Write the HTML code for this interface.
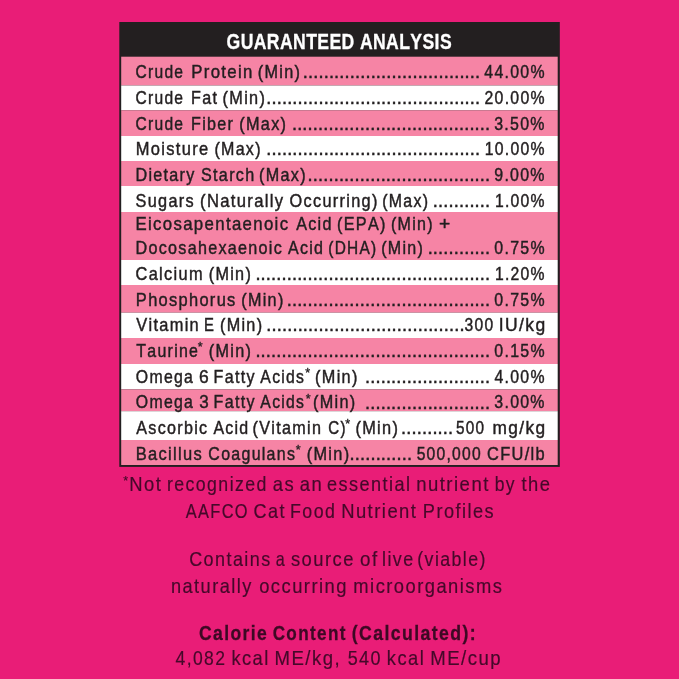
<!DOCTYPE html>
<html lang="en"><head><meta charset="utf-8"><title>Guaranteed Analysis</title>
<style>
html,body{margin:0;padding:0;background:#E91D77;}
body{width:679px;height:679px;overflow:hidden;}
svg{display:block;font-family:"Liberation Sans",sans-serif;font-kerning:none;}
svg text{white-space:pre;}
</style></head><body>
<svg width="679" height="679" viewBox="0 0 679 679">
<rect x="0" y="0" width="679" height="679" fill="#E91D77"/>
<rect x="119.3" y="22" width="440.5" height="444.9" fill="#231F20"/>
<rect x="121.2" y="56.7" width="436.5" height="28.8" fill="#F684A5"/>
<rect x="121.2" y="85.5" width="436.5" height="24.8" fill="#FFFFFF"/>
<rect x="121.2" y="110.3" width="436.5" height="25.7" fill="#F684A5"/>
<rect x="121.2" y="136" width="436.5" height="25.0" fill="#FFFFFF"/>
<rect x="121.2" y="161" width="436.5" height="25.0" fill="#F684A5"/>
<rect x="121.2" y="186" width="436.5" height="26.0" fill="#FFFFFF"/>
<rect x="121.2" y="212" width="436.5" height="48.0" fill="#F684A5"/>
<rect x="121.2" y="260" width="436.5" height="25.0" fill="#FFFFFF"/>
<rect x="121.2" y="285" width="436.5" height="27.7" fill="#F684A5"/>
<rect x="121.2" y="312.7" width="436.5" height="25.3" fill="#FFFFFF"/>
<rect x="121.2" y="338" width="436.5" height="26.0" fill="#F684A5"/>
<rect x="121.2" y="364" width="436.5" height="25.4" fill="#FFFFFF"/>
<rect x="121.2" y="389.4" width="436.5" height="21.8" fill="#F684A5"/>
<rect x="121.2" y="411.2" width="436.5" height="28.8" fill="#FFFFFF"/>
<rect x="121.2" y="440" width="436.5" height="25.0" fill="#F684A5"/>
<text transform="matrix(0.8152 0 0 1 0 0)" x="277.99" y="49.00" font-size="21.6" font-weight="bold" fill="#FFFFFF" stroke="#FFFFFF" stroke-width="0.3" letter-spacing="0.480">GUARANTEED ANALYSIS</text>
<text transform="matrix(0.8671 0 0 1 0 0)" x="156.30" y="78.40" font-size="18" fill="#231F20" stroke="#231F20" stroke-width="0.45" letter-spacing="1.440">Crude</text>
<text transform="matrix(0.9323 0 0 1 0 0)" x="205.13" y="78.40" font-size="18" fill="#231F20" stroke="#231F20" stroke-width="0.45" letter-spacing="1.440">Protein</text>
<text transform="matrix(0.9022 0 0 1 0 0)" x="285.71" y="78.40" font-size="18" fill="#231F20" stroke="#231F20" stroke-width="0.45" letter-spacing="1.440">(Min)</text>
<text x="302.56" y="78.40" font-size="20" fill="#231F20" stroke="#231F20" stroke-width="0.35" letter-spacing="-0.337">..................................</text>
<text transform="matrix(0.8828 0 0 1 0 0)" x="548.59" y="78.40" font-size="18" fill="#231F20" stroke="#231F20" stroke-width="0.45" letter-spacing="1.440">44.00%</text>
<text transform="matrix(0.8671 0 0 1 0 0)" x="156.30" y="104.30" font-size="18" fill="#231F20" stroke="#231F20" stroke-width="0.45" letter-spacing="1.440">Crude</text>
<text transform="matrix(0.8955 0 0 1 0 0)" x="213.42" y="104.30" font-size="18" fill="#231F20" stroke="#231F20" stroke-width="0.45" letter-spacing="1.440">Fat</text>
<text transform="matrix(0.9046 0 0 1 0 0)" x="246.08" y="104.30" font-size="18" fill="#231F20" stroke="#231F20" stroke-width="0.45" letter-spacing="1.440">(Min)</text>
<text x="266.02" y="104.30" font-size="20" fill="#231F20" stroke="#231F20" stroke-width="0.35" letter-spacing="-0.337">.........................................</text>
<text transform="matrix(0.8794 0 0 1 0 0)" x="550.99" y="104.30" font-size="18" fill="#231F20" stroke="#231F20" stroke-width="0.45" letter-spacing="1.440">20.00%</text>
<text transform="matrix(0.8671 0 0 1 0 0)" x="156.30" y="130.00" font-size="18" fill="#231F20" stroke="#231F20" stroke-width="0.45" letter-spacing="1.440">Crude</text>
<text transform="matrix(0.8959 0 0 1 0 0)" x="213.33" y="130.00" font-size="18" fill="#231F20" stroke="#231F20" stroke-width="0.45" letter-spacing="1.440">Fiber</text>
<text transform="matrix(0.9032 0 0 1 0 0)" x="264.93" y="130.00" font-size="18" fill="#231F20" stroke="#231F20" stroke-width="0.45" letter-spacing="1.440">(Max)</text>
<text x="291.68" y="130.00" font-size="20" fill="#231F20" stroke="#231F20" stroke-width="0.35" letter-spacing="-0.337">......................................</text>
<text transform="matrix(0.8854 0 0 1 0 0)" x="558.21" y="130.00" font-size="18" fill="#231F20" stroke="#231F20" stroke-width="0.45" letter-spacing="1.440">3.50%</text>
<text transform="matrix(0.9149 0 0 1 0 0)" x="148.41" y="155.00" font-size="18" fill="#231F20" stroke="#231F20" stroke-width="0.45" letter-spacing="1.440">Moisture</text>
<text transform="matrix(0.8908 0 0 1 0 0)" x="240.73" y="155.00" font-size="18" fill="#231F20" stroke="#231F20" stroke-width="0.45" letter-spacing="1.440">(Max)</text>
<text x="266.02" y="155.00" font-size="20" fill="#231F20" stroke="#231F20" stroke-width="0.35" letter-spacing="-0.337">.........................................</text>
<text transform="matrix(0.8757 0 0 1 0 0)" x="553.58" y="155.00" font-size="18" fill="#231F20" stroke="#231F20" stroke-width="0.45" letter-spacing="1.440">10.00%</text>
<text transform="matrix(0.8963 0 0 1 0 0)" x="151.17" y="180.80" font-size="18" fill="#231F20" stroke="#231F20" stroke-width="0.45" letter-spacing="1.440">Dietary</text>
<text transform="matrix(0.8973 0 0 1 0 0)" x="224.05" y="180.80" font-size="18" fill="#231F20" stroke="#231F20" stroke-width="0.45" letter-spacing="1.440">Starch</text>
<text transform="matrix(0.8987 0 0 1 0 0)" x="288.31" y="180.80" font-size="18" fill="#231F20" stroke="#231F20" stroke-width="0.45" letter-spacing="1.440">(Max)</text>
<text x="307.34" y="180.80" font-size="20" fill="#231F20" stroke="#231F20" stroke-width="0.35" letter-spacing="-0.337">...................................</text>
<text transform="matrix(0.8848 0 0 1 0 0)" x="558.65" y="180.80" font-size="18" fill="#231F20" stroke="#231F20" stroke-width="0.45" letter-spacing="1.440">9.00%</text>
<text transform="matrix(0.9046 0 0 1 0 0)" x="149.89" y="206.60" font-size="18" fill="#231F20" stroke="#231F20" stroke-width="0.45" letter-spacing="1.440">Sugars</text>
<text transform="matrix(0.9238 0 0 1 0 0)" x="216.54" y="206.60" font-size="18" fill="#231F20" stroke="#231F20" stroke-width="0.45" letter-spacing="1.440">(Naturally</text>
<text transform="matrix(0.9063 0 0 1 0 0)" x="319.50" y="206.60" font-size="18" fill="#231F20" stroke="#231F20" stroke-width="0.45" letter-spacing="1.440">Occurring)</text>
<text transform="matrix(0.8831 0 0 1 0 0)" x="432.91" y="206.60" font-size="18" fill="#231F20" stroke="#231F20" stroke-width="0.45" letter-spacing="1.440">(Max)</text>
<text x="432.62" y="206.60" font-size="20" fill="#231F20" stroke="#231F20" stroke-width="0.35" letter-spacing="-0.337">...........</text>
<text transform="matrix(0.8739 0 0 1 0 0)" x="566.31" y="206.60" font-size="18" fill="#231F20" stroke="#231F20" stroke-width="0.45" letter-spacing="1.440">1.00%</text>
<text transform="matrix(0.9330 0 0 1 0 0)" x="145.17" y="230.00" font-size="18" fill="#231F20" stroke="#231F20" stroke-width="0.45" letter-spacing="1.440">Eicosapentaenoic</text>
<text transform="matrix(0.8990 0 0 1 0 0)" x="329.44" y="230.00" font-size="18" fill="#231F20" stroke="#231F20" stroke-width="0.45" letter-spacing="1.440">Acid</text>
<text transform="matrix(0.9014 0 0 1 0 0)" x="373.90" y="230.00" font-size="18" fill="#231F20" stroke="#231F20" stroke-width="0.45" letter-spacing="1.440">(EPA)</text>
<text transform="matrix(0.8903 0 0 1 0 0)" x="439.11" y="230.00" font-size="18" fill="#231F20" stroke="#231F20" stroke-width="0.45" letter-spacing="1.440">(Min)</text>
<text transform="matrix(1.0692 0 0 1 0 0)" x="410.49" y="230.00" font-size="18" fill="#231F20" stroke="#231F20" stroke-width="0.45" letter-spacing="0.000">+</text>
<text transform="matrix(0.8969 0 0 1 0 0)" x="151.08" y="254.00" font-size="18" fill="#231F20" stroke="#231F20" stroke-width="0.45" letter-spacing="1.440">Docosahexaenoic</text>
<text transform="matrix(0.8900 0 0 1 0 0)" x="323.58" y="254.00" font-size="18" fill="#231F20" stroke="#231F20" stroke-width="0.45" letter-spacing="1.440">Acid</text>
<text transform="matrix(0.8586 0 0 1 0 0)" x="382.35" y="254.00" font-size="18" fill="#231F20" stroke="#231F20" stroke-width="0.45" letter-spacing="1.440">(DHA)</text>
<text transform="matrix(0.8915 0 0 1 0 0)" x="427.57" y="254.00" font-size="18" fill="#231F20" stroke="#231F20" stroke-width="0.45" letter-spacing="1.440">(Min)</text>
<text x="427.40" y="254.00" font-size="20" fill="#231F20" stroke="#231F20" stroke-width="0.35" letter-spacing="-0.337">............</text>
<text transform="matrix(0.8835 0 0 1 0 0)" x="559.57" y="254.00" font-size="18" fill="#231F20" stroke="#231F20" stroke-width="0.45" letter-spacing="1.440">0.75%</text>
<text transform="matrix(0.9096 0 0 1 0 0)" x="149.07" y="280.00" font-size="18" fill="#231F20" stroke="#231F20" stroke-width="0.45" letter-spacing="1.440">Calcium</text>
<text transform="matrix(0.8998 0 0 1 0 0)" x="231.96" y="280.00" font-size="18" fill="#231F20" stroke="#231F20" stroke-width="0.45" letter-spacing="1.440">(Min)</text>
<text x="255.14" y="280.00" font-size="20" fill="#231F20" stroke="#231F20" stroke-width="0.35" letter-spacing="-0.337">.............................................</text>
<text transform="matrix(0.8739 0 0 1 0 0)" x="566.31" y="280.00" font-size="18" fill="#231F20" stroke="#231F20" stroke-width="0.45" letter-spacing="1.440">1.20%</text>
<text transform="matrix(0.9127 0 0 1 0 0)" x="148.87" y="305.70" font-size="18" fill="#231F20" stroke="#231F20" stroke-width="0.45" letter-spacing="1.440">Phosphorus</text>
<text transform="matrix(0.8986 0 0 1 0 0)" x="268.53" y="305.70" font-size="18" fill="#231F20" stroke="#231F20" stroke-width="0.45" letter-spacing="1.440">(Min)</text>
<text x="286.46" y="305.70" font-size="20" fill="#231F20" stroke="#231F20" stroke-width="0.35" letter-spacing="-0.337">.......................................</text>
<text transform="matrix(0.8835 0 0 1 0 0)" x="559.57" y="305.70" font-size="18" fill="#231F20" stroke="#231F20" stroke-width="0.45" letter-spacing="1.440">0.75%</text>
<text transform="matrix(0.9112 0 0 1 0 0)" x="149.54" y="331.20" font-size="18" fill="#231F20" stroke="#231F20" stroke-width="0.45" letter-spacing="1.440">Vitamin</text>
<text transform="matrix(0.8251 0 0 1 0 0)" x="247.24" y="331.20" font-size="18" fill="#231F20" stroke="#231F20" stroke-width="0.45" letter-spacing="0.000">E</text>
<text transform="matrix(0.9010 0 0 1 0 0)" x="244.11" y="331.20" font-size="18" fill="#231F20" stroke="#231F20" stroke-width="0.45" letter-spacing="1.440">(Min)</text>
<text x="266.08" y="331.20" font-size="20" fill="#231F20" stroke="#231F20" stroke-width="0.35" letter-spacing="-0.337">......................................</text>
<text transform="matrix(0.8675 0 0 1 0 0)" x="535.59" y="331.20" font-size="18" fill="#231F20" stroke="#231F20" stroke-width="0.45" letter-spacing="1.440">300</text>
<text transform="matrix(0.9711 0 0 1 0 0)" x="513.57" y="331.20" font-size="18" fill="#231F20" stroke="#231F20" stroke-width="0.45" letter-spacing="1.440">IU/kg</text>
<text transform="matrix(0.8855 0 0 1 0 0)" x="153.89" y="356.70" font-size="18" fill="#231F20" stroke="#231F20" stroke-width="0.45" letter-spacing="1.440">Taurine</text>
<text x="197.76" y="351.10" font-size="12.5" fill="#231F20" stroke="#231F20" stroke-width="0.35">*</text>
<text transform="matrix(0.9010 0 0 1 0 0)" x="231.79" y="356.70" font-size="18" fill="#231F20" stroke="#231F20" stroke-width="0.45" letter-spacing="1.440">(Min)</text>
<text x="255.14" y="356.70" font-size="20" fill="#231F20" stroke="#231F20" stroke-width="0.35" letter-spacing="-0.337">.............................................</text>
<text transform="matrix(0.8835 0 0 1 0 0)" x="559.57" y="356.70" font-size="18" fill="#231F20" stroke="#231F20" stroke-width="0.45" letter-spacing="1.440">0.15%</text>
<text transform="matrix(0.8799 0 0 1 0 0)" x="154.41" y="382.90" font-size="18" fill="#231F20" stroke="#231F20" stroke-width="0.45" letter-spacing="1.440">Omega</text>
<text transform="matrix(0.9692 0 0 1 0 0)" x="205.36" y="382.90" font-size="18" fill="#231F20" stroke="#231F20" stroke-width="0.45" letter-spacing="0.000">6</text>
<text transform="matrix(0.8943 0 0 1 0 0)" x="238.85" y="382.90" font-size="18" fill="#231F20" stroke="#231F20" stroke-width="0.45" letter-spacing="1.440">Fatty</text>
<text transform="matrix(0.8752 0 0 1 0 0)" x="297.51" y="382.90" font-size="18" fill="#231F20" stroke="#231F20" stroke-width="0.45" letter-spacing="1.440">Acids</text>
<text x="305.36" y="377.30" font-size="12.5" fill="#231F20" stroke="#231F20" stroke-width="0.35">*</text>
<text transform="matrix(0.9034 0 0 1 0 0)" x="348.78" y="382.90" font-size="18" fill="#231F20" stroke="#231F20" stroke-width="0.45" letter-spacing="1.440">(Min)</text>
<text x="364.76" y="382.90" font-size="20" fill="#231F20" stroke="#231F20" stroke-width="0.35" letter-spacing="-0.337">........................</text>
<text transform="matrix(0.8808 0 0 1 0 0)" x="561.44" y="382.90" font-size="18" fill="#231F20" stroke="#231F20" stroke-width="0.45" letter-spacing="1.440">4.00%</text>
<text transform="matrix(0.8799 0 0 1 0 0)" x="154.41" y="408.50" font-size="18" fill="#231F20" stroke="#231F20" stroke-width="0.45" letter-spacing="1.440">Omega</text>
<text transform="matrix(0.9433 0 0 1 0 0)" x="211.26" y="408.50" font-size="18" fill="#231F20" stroke="#231F20" stroke-width="0.45" letter-spacing="0.000">3</text>
<text transform="matrix(0.8943 0 0 1 0 0)" x="238.85" y="408.50" font-size="18" fill="#231F20" stroke="#231F20" stroke-width="0.45" letter-spacing="1.440">Fatty</text>
<text transform="matrix(0.8752 0 0 1 0 0)" x="297.51" y="408.50" font-size="18" fill="#231F20" stroke="#231F20" stroke-width="0.45" letter-spacing="1.440">Acids</text>
<text x="305.86" y="402.90" font-size="12.5" fill="#231F20" stroke="#231F20" stroke-width="0.35">*</text>
<text transform="matrix(0.9022 0 0 1 0 0)" x="346.89" y="408.50" font-size="18" fill="#231F20" stroke="#231F20" stroke-width="0.45" letter-spacing="1.440">(Min)</text>
<text x="364.76" y="408.50" font-size="20" fill="#231F20" stroke="#231F20" stroke-width="0.35" letter-spacing="-0.337">........................</text>
<text transform="matrix(0.8833 0 0 1 0 0)" x="559.68" y="408.50" font-size="18" fill="#231F20" stroke="#231F20" stroke-width="0.45" letter-spacing="1.440">3.00%</text>
<text transform="matrix(0.8951 0 0 1 0 0)" x="152.27" y="433.90" font-size="18" fill="#231F20" stroke="#231F20" stroke-width="0.45" letter-spacing="1.440">Ascorbic</text>
<text transform="matrix(0.8850 0 0 1 0 0)" x="241.12" y="433.90" font-size="18" fill="#231F20" stroke="#231F20" stroke-width="0.45" letter-spacing="1.440">Acid</text>
<text transform="matrix(0.8993 0 0 1 0 0)" x="280.89" y="433.90" font-size="18" fill="#231F20" stroke="#231F20" stroke-width="0.45" letter-spacing="1.440">(Vitamin</text>
<text transform="matrix(0.8395 0 0 1 0 0)" x="391.12" y="433.90" font-size="18" fill="#231F20" stroke="#231F20" stroke-width="0.45" letter-spacing="1.440">C)</text>
<text x="345.36" y="428.30" font-size="12.5" fill="#231F20" stroke="#231F20" stroke-width="0.35">*</text>
<text transform="matrix(0.9082 0 0 1 0 0)" x="391.38" y="433.90" font-size="18" fill="#231F20" stroke="#231F20" stroke-width="0.45" letter-spacing="1.440">(Min)</text>
<text x="400.84" y="433.90" font-size="20" fill="#231F20" stroke="#231F20" stroke-width="0.35" letter-spacing="-0.337">..........</text>
<text transform="matrix(0.8497 0 0 1 0 0)" x="536.68" y="433.90" font-size="18" fill="#231F20" stroke="#231F20" stroke-width="0.45" letter-spacing="1.440">500</text>
<text transform="matrix(0.9603 0 0 1 0 0)" x="512.84" y="433.90" font-size="18" fill="#231F20" stroke="#231F20" stroke-width="0.45" letter-spacing="1.440">mg/kg</text>
<text transform="matrix(0.9164 0 0 1 0 0)" x="148.05" y="459.90" font-size="18" fill="#231F20" stroke="#231F20" stroke-width="0.45" letter-spacing="1.440">Bacillus</text>
<text transform="matrix(0.8877 0 0 1 0 0)" x="234.73" y="459.90" font-size="18" fill="#231F20" stroke="#231F20" stroke-width="0.45" letter-spacing="1.440">Coagulans</text>
<text x="295.86" y="454.30" font-size="12.5" fill="#231F20" stroke="#231F20" stroke-width="0.35">*</text>
<text transform="matrix(0.9082 0 0 1 0 0)" x="337.65" y="459.90" font-size="18" fill="#231F20" stroke="#231F20" stroke-width="0.45" letter-spacing="1.440">(Min)</text>
<text x="349.30" y="459.90" font-size="20" fill="#231F20" stroke="#231F20" stroke-width="0.35" letter-spacing="-0.337">............</text>
<text transform="matrix(0.8687 0 0 1 0 0)" x="479.60" y="459.90" font-size="18" fill="#231F20" stroke="#231F20" stroke-width="0.45" letter-spacing="1.440">500,000</text>
<text transform="matrix(0.9125 0 0 1 0 0)" x="533.69" y="459.90" font-size="18" fill="#231F20" stroke="#231F20" stroke-width="0.45" letter-spacing="1.440">CFU/lb</text>
<text x="123.21" y="485.20" font-size="12.5" fill="#45092a" stroke="#45092a" stroke-width="0.15">*</text>
<text transform="matrix(0.9032 0 0 1 0 0)" x="143.10" y="491.50" font-size="20.4" fill="#45092a" stroke="#45092a" stroke-width="0.2" letter-spacing="1.632">Not</text>
<text transform="matrix(0.8696 0 0 1 0 0)" x="191.93" y="491.50" font-size="20.4" fill="#45092a" stroke="#45092a" stroke-width="0.2" letter-spacing="1.632">recognized</text>
<text transform="matrix(0.9031 0 0 1 0 0)" x="301.95" y="491.50" font-size="20.4" fill="#45092a" stroke="#45092a" stroke-width="0.2" letter-spacing="1.632">as</text>
<text transform="matrix(0.9030 0 0 1 0 0)" x="331.98" y="491.50" font-size="20.4" fill="#45092a" stroke="#45092a" stroke-width="0.2" letter-spacing="1.632">an</text>
<text transform="matrix(0.8885 0 0 1 0 0)" x="367.92" y="491.50" font-size="20.4" fill="#45092a" stroke="#45092a" stroke-width="0.2" letter-spacing="1.632">essential</text>
<text transform="matrix(0.9089 0 0 1 0 0)" x="457.86" y="491.50" font-size="20.4" fill="#45092a" stroke="#45092a" stroke-width="0.2" letter-spacing="1.632">nutrient</text>
<text transform="matrix(0.8578 0 0 1 0 0)" x="576.73" y="491.50" font-size="20.4" fill="#45092a" stroke="#45092a" stroke-width="0.2" letter-spacing="1.632">by</text>
<text transform="matrix(0.9005 0 0 1 0 0)" x="579.06" y="491.50" font-size="20.4" fill="#45092a" stroke="#45092a" stroke-width="0.2" letter-spacing="1.632">the</text>
<text transform="matrix(0.8049 0 0 1 0 0)" x="230.92" y="518.00" font-size="20.4" fill="#45092a" stroke="#45092a" stroke-width="0.2" letter-spacing="1.632">AAFCO</text>
<text transform="matrix(0.8859 0 0 1 0 0)" x="286.25" y="518.00" font-size="20.4" fill="#45092a" stroke="#45092a" stroke-width="0.2" letter-spacing="1.632">Cat</text>
<text transform="matrix(0.8725 0 0 1 0 0)" x="332.46" y="518.00" font-size="20.4" fill="#45092a" stroke="#45092a" stroke-width="0.2" letter-spacing="1.632">Food</text>
<text transform="matrix(0.9031 0 0 1 0 0)" x="377.75" y="518.00" font-size="20.4" fill="#45092a" stroke="#45092a" stroke-width="0.2" letter-spacing="1.632">Nutrient</text>
<text transform="matrix(0.8911 0 0 1 0 0)" x="474.49" y="518.00" font-size="20.4" fill="#45092a" stroke="#45092a" stroke-width="0.2" letter-spacing="1.632">Profiles</text>
<text transform="matrix(0.8827 0 0 1 0 0)" x="214.27" y="566.00" font-size="20.4" fill="#45092a" stroke="#45092a" stroke-width="0.2" letter-spacing="1.632">Contains</text>
<text transform="matrix(0.7921 0 0 1 0 0)" x="348.09" y="566.00" font-size="20.4" fill="#45092a" stroke="#45092a" stroke-width="0.2" letter-spacing="0.000">a</text>
<text transform="matrix(0.9007 0 0 1 0 0)" x="322.97" y="566.00" font-size="20.4" fill="#45092a" stroke="#45092a" stroke-width="0.2" letter-spacing="1.632">source</text>
<text transform="matrix(0.9196 0 0 1 0 0)" x="391.56" y="566.00" font-size="20.4" fill="#45092a" stroke="#45092a" stroke-width="0.2" letter-spacing="1.632">of</text>
<text transform="matrix(0.8771 0 0 1 0 0)" x="435.53" y="566.00" font-size="20.4" fill="#45092a" stroke="#45092a" stroke-width="0.2" letter-spacing="1.632">live</text>
<text transform="matrix(0.8708 0 0 1 0 0)" x="479.19" y="566.00" font-size="20.4" fill="#45092a" stroke="#45092a" stroke-width="0.2" letter-spacing="1.632">(viable)</text>
<text transform="matrix(0.8923 0 0 1 0 0)" x="191.58" y="592.60" font-size="20.4" fill="#45092a" stroke="#45092a" stroke-width="0.2" letter-spacing="1.632">naturally</text>
<text transform="matrix(0.9014 0 0 1 0 0)" x="287.49" y="592.60" font-size="20.4" fill="#45092a" stroke="#45092a" stroke-width="0.2" letter-spacing="1.632">occurring</text>
<text transform="matrix(0.8996 0 0 1 0 0)" x="392.81" y="592.60" font-size="20.4" fill="#45092a" stroke="#45092a" stroke-width="0.2" letter-spacing="1.632">microorganisms</text>
<text transform="matrix(0.8603 0 0 1 0 0)" x="231.24" y="640.00" font-size="20.4" font-weight="bold" fill="#3d0924" stroke="#3d0924" stroke-width="0.3" letter-spacing="1.632">Calorie</text>
<text transform="matrix(0.8396 0 0 1 0 0)" x="324.73" y="640.00" font-size="20.4" font-weight="bold" fill="#3d0924" stroke="#3d0924" stroke-width="0.3" letter-spacing="1.632">Content</text>
<text transform="matrix(0.8662 0 0 1 0 0)" x="406.10" y="640.00" font-size="20.4" font-weight="bold" fill="#3d0924" stroke="#3d0924" stroke-width="0.3" letter-spacing="1.632">(Calculated):</text>
<text transform="matrix(0.8598 0 0 1 0 0)" x="204.16" y="665.30" font-size="20.4" fill="#45092a" stroke="#45092a" stroke-width="0.2" letter-spacing="1.632">4,082</text>
<text transform="matrix(0.8963 0 0 1 0 0)" x="258.18" y="665.30" font-size="20.4" fill="#45092a" stroke="#45092a" stroke-width="0.2" letter-spacing="1.632">kcal</text>
<text transform="matrix(0.9114 0 0 1 0 0)" x="301.15" y="665.30" font-size="20.4" fill="#45092a" stroke="#45092a" stroke-width="0.2" letter-spacing="1.632">ME/kg,</text>
<text transform="matrix(0.8823 0 0 1 0 0)" x="394.06" y="665.30" font-size="20.4" fill="#45092a" stroke="#45092a" stroke-width="0.2" letter-spacing="1.632">540</text>
<text transform="matrix(0.8975 0 0 1 0 0)" x="430.98" y="665.30" font-size="20.4" fill="#45092a" stroke="#45092a" stroke-width="0.2" letter-spacing="1.632">kcal</text>
<text transform="matrix(0.9114 0 0 1 0 0)" x="472.00" y="665.30" font-size="20.4" fill="#45092a" stroke="#45092a" stroke-width="0.2" letter-spacing="1.632">ME/cup</text>
</svg>
</body></html>
